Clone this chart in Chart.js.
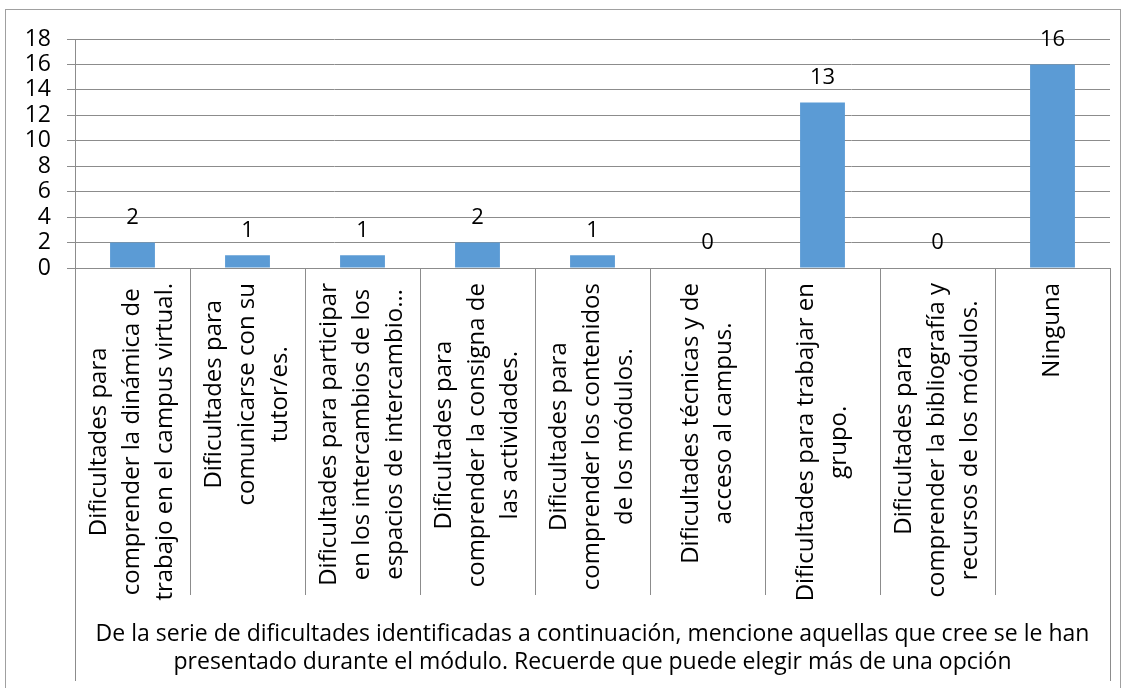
<!DOCTYPE html>
<html>
<head>
<meta charset="utf-8">
<script src="https://cdn.jsdelivr.net/npm/chart.js@4.4.1/dist/chart.umd.min.js"></script>
<style>
  html, body { margin: 0; padding: 0; background: #fff; }
  #wrap { width: 1125px; height: 688px; position: relative; }
</style>
</head>
<body>
<div id="wrap"><canvas id="chart"></canvas></div>
<script>
// categories (already split into the lines shown under each bar)
const categories = [
    ["Dificultades para", "comprender la dinámica de", "trabajo en el campus virtual."],
    ["Dificultades para", "comunicarse con su", "tutor/es."],
    ["Dificultades para participar", "en los intercambios de los", "espacios de intercambio…"],
    ["Dificultades para", "comprender la consigna de", "las actividades."],
    ["Dificultades para", "comprender los contenidos", "de los módulos."],
    ["Dificultades técnicas y de", "acceso al campus."],
    ["Dificultades para trabajar en", "grupo."],
    ["Dificultades para", "comprender la bibliografía y", "recursos de los módulos."],
    ["Ninguna"]
];
const counts = [2, 1, 1, 2, 1, 0, 13, 0, 16];
const yTicks = [0, 2, 4, 6, 8, 10, 12, 14, 16, 18];
const axisTitle = [
    "De la serie de dificultades identificadas a continuación, mencione aquellas que cree se le han",
    "presentado durante el módulo. Recuerde que puede elegir más de una opción"
];

const FONT = '"Open Sans", Lato, sans-serif';
const GRID = '#8c8c8c';
const BAR = '#5b9bd5';

// outer frame, category labels and the side lines of the label box
const framePlugin = {
    id: 'frame',
    afterDraw(chart) {
        const { ctx, chartArea: area, scales: { x } } = chart;
        ctx.save();
        ctx.strokeStyle = '#a0a0a0';
        ctx.lineWidth = 1;
        ctx.strokeRect(5.5, 9.5, 1115, 700);

        ctx.strokeStyle = GRID;
        [area.left, area.right].forEach(px => {
            const p = Math.round(px) + 0.5;
            ctx.beginPath();
            ctx.moveTo(p, area.bottom);
            ctx.lineTo(p, x.bottom);
            ctx.stroke();
        });

        ctx.font = '24px ' + FONT;
        ctx.fillStyle = '#000';
        ctx.textAlign = 'center';
        ctx.textBaseline = 'middle';
        const lineGap = 33;
        categories.forEach((lines, i) => {
            const cx = x.getPixelForValue(i);
            const w = Math.max(...lines.map(l => ctx.measureText(l).width));
            const cy = area.bottom + 15 + w / 2;
            ctx.save();
            ctx.translate(cx, cy);
            ctx.rotate(-Math.PI / 2);
            lines.forEach((l, j) => {
                ctx.fillText(l, 0, (j - (lines.length - 1) / 2) * lineGap);
            });
            ctx.restore();
        });
        ctx.restore();
    }
};

// value labels above the bars
const valuePlugin = {
    id: 'values',
    afterDatasetsDraw(chart) {
        const { ctx } = chart;
        ctx.save();
        ctx.font = '22px ' + FONT;
        ctx.fillStyle = '#000';
        ctx.textAlign = 'center';
        ctx.textBaseline = 'middle';
        chart.getDatasetMeta(0).data.forEach((bar, i) => {
            ctx.fillText(String(counts[i]), bar.x, bar.y - 25);
        });
        ctx.restore();
    }
};

new Chart(document.getElementById('chart'), {
    type: 'bar',
    data: {
        labels: categories,
        datasets: [{
            data: counts,
            backgroundColor: BAR,
            borderWidth: 0,
            categoryPercentage: 1,
            barPercentage: 0.39
        }]
    },
    options: {
        responsive: true,
        maintainAspectRatio: false,
        animation: false,
        layout: { padding: { left: 6, right: 15, top: 39, bottom: 7 } },
        plugins: {
            legend: { display: false },
            tooltip: { enabled: false }
        },
        scales: {
            x: {
                ticks: { display: false },
                grid: { drawOnChartArea: false, tickLength: 327, color: GRID },
                border: { color: GRID },
                title: {
                    display: true,
                    text: axisTitle,
                    color: '#000',
                    font: { family: FONT, size: 23, lineHeight: 28 / 23 },
                    padding: { top: 25, bottom: 5 }
                }
            },
            y: {
                min: yTicks[0],
                max: yTicks[yTicks.length - 1],
                afterBuildTicks(scale) { scale.ticks = yTicks.map(v => ({ value: v })); },
                ticks: { autoSkip: false, padding: 16, color: '#000', font: { family: FONT, size: 23 } },
                grid: { color: GRID, tickLength: 8 },
                border: { color: GRID },
                afterFit(scale) { scale.width = 69; }
            }
        }
    },
    plugins: [framePlugin, valuePlugin]
});
</script>
</body>
</html>
